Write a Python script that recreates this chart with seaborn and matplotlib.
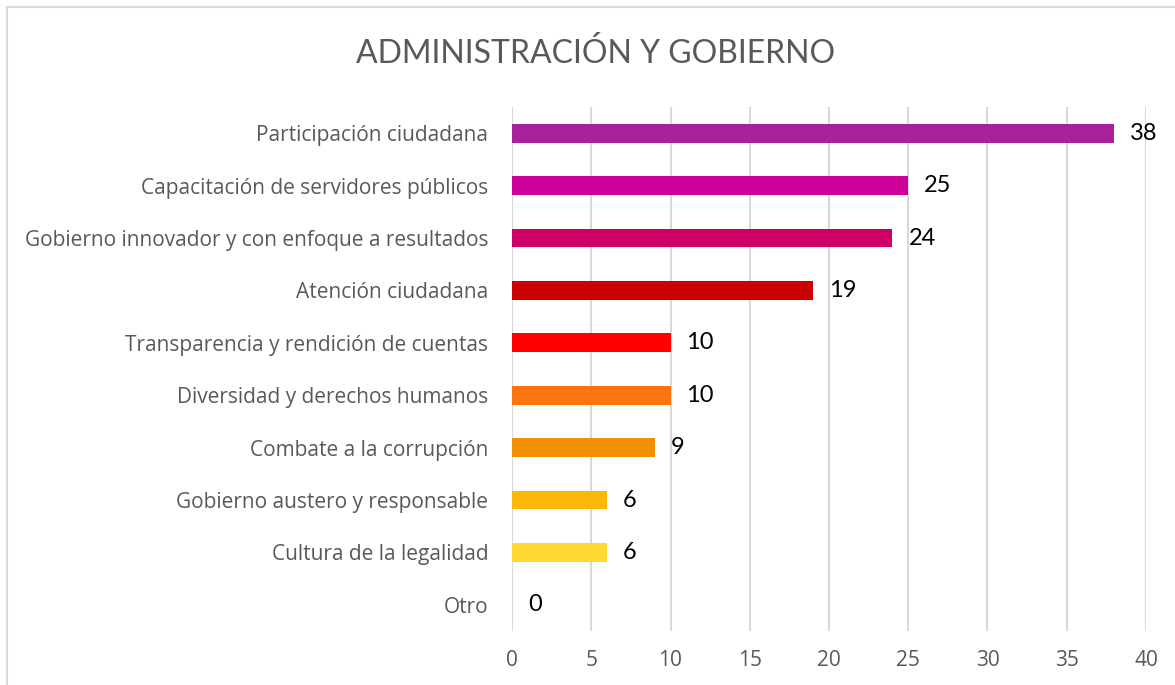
import matplotlib
matplotlib.use("Agg")
import matplotlib.pyplot as plt
from matplotlib.patches import Rectangle
import seaborn as sns
import pandas as pd

categorias = [
    "Participación ciudadana",
    "Capacitación de servidores públicos",
    "Gobierno innovador y con enfoque a resultados",
    "Atención ciudadana",
    "Transparencia y rendición de cuentas",
    "Diversidad y derechos humanos",
    "Combate a la corrupción",
    "Gobierno austero y responsable",
    "Cultura de la legalidad",
    "Otro",
]
valores = [38, 25, 24, 19, 10, 10, 9, 6, 6, 0]
colores = [
    "#A8209A", "#CC0099", "#CC0066", "#CC0000", "#FF0000",
    "#FC7410", "#F29100", "#FDB60A", "#FFD932", "#FFD932",
]
ticks_x = [0, 5, 10, 15, 20, 25, 30, 35, 40]
titulo = "ADMINISTRACIÓN Y GOBIERNO"

sns.set_theme(style="white")
plt.rcParams["font.family"] = ["Open Sans", "DejaVu Sans"]

W, H = 1175, 685
fig = plt.figure(figsize=(W / 100, H / 100), dpi=100)
ax = fig.add_axes([512 / W, 1 - 631 / H, (1146 - 512) / W, (631 - 107) / H])

df = pd.DataFrame({"categoria": categorias, "valor": valores})
sns.barplot(
    data=df, x="valor", y="categoria", hue="categoria",
    palette=colores, legend=False, width=0.36, ax=ax,
    saturation=1, zorder=3, linewidth=0,
)

ax.set_xlim(0, 40)
ax.set_xticks(ticks_x)
ax.set_xticklabels([str(t) for t in ticks_x])
ax.set_xlabel("")
ax.set_ylabel("")
ax.grid(axis="x", color="#d9d9d9", linewidth=1.5, zorder=0)
ax.grid(axis="y", visible=False)
for s in ax.spines.values():
    s.set_visible(False)
ax.tick_params(axis="x", length=0, pad=14, labelsize=15, labelcolor="#595959")
ax.tick_params(axis="y", length=0, pad=17, labelsize=15, labelcolor="#595959")

for i, v in enumerate(valores):
    ax.annotate(
        str(v), xy=(v, i), xytext=(16, 0), textcoords="offset pixels",
        va="center", ha="left", fontsize=17, color="black", zorder=5,
        family=["Lato", "DejaVu Sans"],
    )

fig.text(595.5 / W, 1 - 63 / H, titulo, ha="center", va="baseline",
         fontsize=23, color="#595959", family=["Lato", "DejaVu Sans"])

fig.patches.append(Rectangle(
    (7 / W, -0.5), 2.0, (1 - 7 / H) + 0.5, transform=fig.transFigure,
    fill=False, edgecolor="#d9d9d9", linewidth=1.5,
))

fig.savefig("out.png", dpi=100)
